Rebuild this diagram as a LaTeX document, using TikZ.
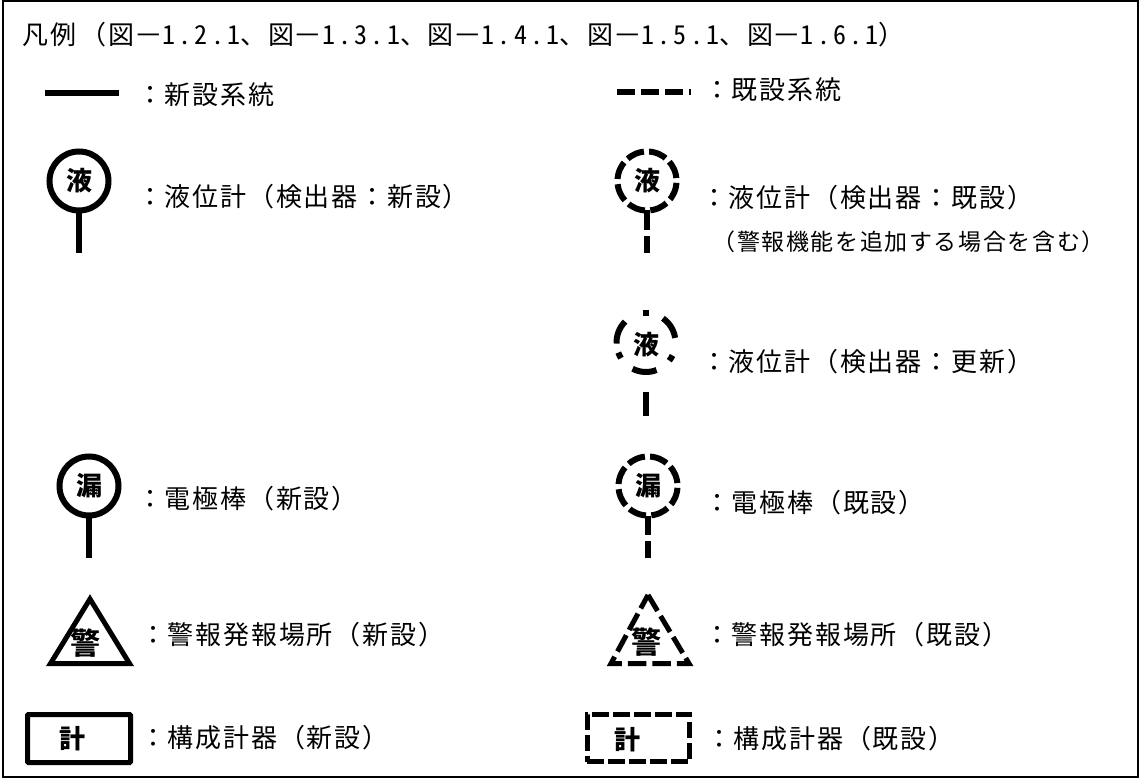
\documentclass[tikz,border=0pt]{standalone}
\usepackage{fontspec}
\setmainfont{Noto Sans CJK JP}[RawFeature=+fwid, LetterSpace=7]
\newfontfamily\hwfont{Noto Sans CJK JP}[RawFeature=+hwid, LetterSpace=12.5]
\usepackage{tikz}
\usetikzlibrary{calc}
\newcommand{\fignum}[1]{\makebox[27.8pt]{\scalebox{1.7}[1]{{\hwfont −}}}{\hwfont #1}}
\tikzset{
    legend/.style={anchor=west, inner sep=0pt, outer sep=0pt, font=\fontsize{26}{30}\selectfont},
    legendnote/.style={anchor=west, inner sep=0pt, outer sep=0pt, font=\fontsize{23}{30}\selectfont},
    sym/.style={inner sep=0pt, outer sep=0pt, font=\fontsize{26}{28}\selectfont\bfseries},
    newline/.style={line width=6pt},
    oldline/.style={line width=6pt, dash pattern=on 18pt off 6.2pt},
    newgauge/.style={sym, circle, draw, line width=6pt, minimum size=59pt},
    oldgauge/.style={sym, circle, draw, line width=6pt, minimum size=59pt, dash pattern=on 18pt off 5.2pt, dash phase=-3pt},
    newbox/.style={sym, draw, line width=5pt, rounded corners=1pt, minimum width=103pt, minimum height=48pt},
    oldbox/.style={sym, draw, line width=5pt, minimum width=102.5pt, minimum height=47.5pt, dash pattern=on 16.5pt off 4.5pt},
    alarm/.style={inner sep=0pt, outer sep=0pt, font=\fontsize{30}{30}\selectfont\bfseries}
}
\begin{document}
\begin{tikzpicture}[x=1pt, y=1pt]
        \useasboundingbox (0,-778) rectangle (1140,0);
        \draw[line width=2pt] (3,-1) rectangle (1138,-777);

        \node[legend] (title) at (23,-35) {凡例\hspace{4pt}(図\fignum{1.2.1}、図\fignum{1.3.1}、図\fignum{1.4.1}、図\fignum{1.5.1}、図\fignum{1.6.1})};

        \coordinate (sysnewa) at (45,-93);
        \coordinate (sysnewb) at (119,-93);
        \draw[newline] (sysnewa) -- (sysnewb);
        \node[legend] (sysnewtext) at (137,-95) {:新設系統};

        \coordinate (sysolda) at (616.5,-92);
        \coordinate (sysoldb) at (690.5,-92);
        \draw[oldline] (sysolda) -- (sysoldb);
        \node[legend] (sysoldtext) at (704,-90) {:既設系統};

        \node[newgauge] (lvnew) at (79,-181) {\raisebox{-3pt}{液}};
        \coordinate (lvnewend) at (79,-253);
        \draw[newline] (lvnew.south) -- (lvnewend);
        \node[legend] (lvnewtext) at (137,-197) {:液位計(検出器:新設)};

        \node[oldgauge] (lvold) at (647,-181) {\raisebox{-3pt}{液}};
        \coordinate (lvoldend) at (647,-253);
        \draw[newline, dash pattern=on 19pt off 6.5pt] (lvold.south) -- (lvoldend);
        \node[legend] (lvoldtext) at (701,-198) {:液位計(検出器:既設)};
        \node[legendnote] (lvoldnote) at (712.5,-242) {(警報機能を追加する場合を含む)};

        \node[sym] (lvupd) at (646,-345) {液};
        \foreach \from/\to in {95/85, 55/9, 334/322, 291/243, 212/200, 182/135} {
            \draw[newline] ($(646,-342.5)+(\from:29.5)$) arc (\from:\to:29.5);
        }
        \coordinate (lvupda) at (646,-392);
        \coordinate (lvupdb) at (646,-416);
        \draw[newline] (lvupda) -- (lvupdb);
        \node[legend] (lvupdtext) at (701,-362) {:液位計(検出器:更新)};

        \node[newgauge] (elnew) at (89,-486) {\raisebox{-2pt}{漏}};
        \coordinate (elnewend) at (89,-558);
        \draw[newline] (elnew.south) -- (elnewend);
        \node[legend] (elnewtext) at (137,-499) {:電極棒(新設)};

        \node[oldgauge] (elold) at (648,-486) {\raisebox{-3pt}{漏}};
        \coordinate (eloldend) at (648,-558);
        \draw[newline, dash pattern=on 19pt off 6.5pt] (elold.south) -- (eloldend);
        \node[legend] (eloldtext) at (704,-503) {:電極棒(既設)};

        \draw[line width=5pt] (90,-599) -- (129.5,-663.5) -- (50.5,-663.5) -- cycle;
        \node[alarm] (alnew) at (85.5,-643) {警};
        \node[legend] (alnewtext) at (140,-635) {:警報発報場所(新設)};

        \draw[line width=5pt, dash pattern=on 18.5pt off 6pt] (648,-595) -- (689,-663.5) -- (611,-663.5) -- cycle;
        \node[alarm] (alold) at (646,-642) {警};
        \node[legend] (aloldtext) at (704,-635) {:警報発報場所(既設)};

        \node[newbox] (instnew) at (79,-738.5) {};
        \node[sym] (instnewtext) at (72,-739) {計};
        \node[legend] (instnewlabel) at (140,-738) {:構成計器(新設)};

        \node[oldbox] (instold) at (638.25,-738) {};
        \node[sym] (instoldtext) at (627,-740) {計};
        \node[legend] (instoldlabel) at (706,-739) {:構成計器(既設)};

    \end{tikzpicture}
\end{document}
